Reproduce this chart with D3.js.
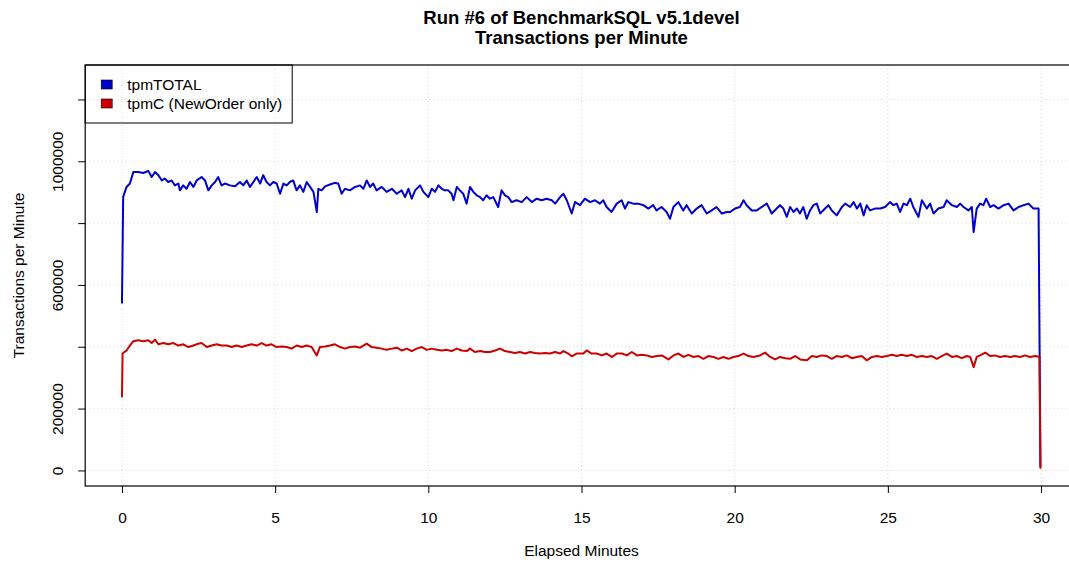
<!DOCTYPE html>
<html>
<head>
<meta charset="utf-8">
<title>Run #6 of BenchmarkSQL v5.1devel</title>
<script src="https://cdn.jsdelivr.net/npm/d3@7"></script>
<style>
    body { margin: 0; background: #fff; }
    svg { display: block; font-family: "Liberation Sans", Arial, Helvetica, sans-serif; }
</style>
</head>
<body>
<svg id="chart"></svg>
<script>
// ---------------- data ----------------
const TITLE_LINES = ["Run #6 of BenchmarkSQL v5.1devel", "Transactions per Minute"]
const X_LABEL = "Elapsed Minutes"
const Y_LABEL = "Transactions per Minute"
const SERIES_NAMES = ["tpmTOTAL", "tpmC (NewOrder only)"]

const X_TICKS = [0, 5, 10, 15, 20, 25, 30]
const Y_TICKS = [0, 200000, 400000, 600000, 800000, 1000000, 1200000]
const Y_TICK_LABELS = ["0", "200000", "", "600000", "", "1000000", ""]   // R skips overlapping labels

const totalMinutes = [0.00, 0.04, 0.15, 0.26, 0.37, 0.53, 0.70, 0.86, 0.97, 1.08, 1.19, 1.30, 1.40, 1.51, 1.62, 1.73, 1.84, 1.89, 2.00, 2.11, 2.22, 2.33, 2.44, 2.60, 2.71, 2.82, 2.93, 3.04, 3.14, 3.25, 3.36, 3.53, 3.69, 3.85, 3.96, 4.07, 4.18, 4.29, 4.40, 4.51, 4.61, 4.72, 4.83, 4.94, 5.05, 5.16, 5.27, 5.38, 5.48, 5.59, 5.70, 5.81, 5.92, 6.03, 6.14, 6.25, 6.36, 6.41, 6.52, 6.63, 6.79, 6.95, 7.06, 7.17, 7.28, 7.44, 7.61, 7.77, 7.88, 7.99, 8.10, 8.20, 8.31, 8.48, 8.64, 8.81, 8.97, 9.13, 9.24, 9.35, 9.46, 9.57, 9.73, 9.84, 10.00, 10.11, 10.22, 10.33, 10.44, 10.54, 10.65, 10.76, 10.82, 10.93, 11.03, 11.14, 11.25, 11.36, 11.47, 11.58, 11.69, 11.79, 11.90, 12.01, 12.12, 12.28, 12.39, 12.50, 12.61, 12.72, 12.88, 13.05, 13.21, 13.38, 13.54, 13.70, 13.86, 14.03, 14.14, 14.30, 14.41, 14.52, 14.68, 14.79, 14.95, 15.11, 15.28, 15.44, 15.60, 15.71, 15.82, 15.98, 16.15, 16.31, 16.42, 16.53, 16.69, 16.85, 17.02, 17.18, 17.34, 17.45, 17.61, 17.78, 17.89, 18.00, 18.16, 18.32, 18.43, 18.60, 18.76, 18.92, 19.09, 19.25, 19.41, 19.58, 19.74, 19.85, 20.01, 20.17, 20.29, 20.39, 20.56, 20.72, 20.88, 21.05, 21.21, 21.37, 21.48, 21.59, 21.70, 21.81, 21.92, 22.03, 22.13, 22.24, 22.35, 22.46, 22.57, 22.68, 22.79, 22.95, 23.06, 23.17, 23.33, 23.50, 23.61, 23.77, 23.88, 23.99, 24.10, 24.21, 24.31, 24.42, 24.58, 24.75, 24.91, 25.07, 25.18, 25.29, 25.40, 25.51, 25.62, 25.73, 25.83, 26.00, 26.11, 26.27, 26.38, 26.49, 26.65, 26.82, 26.92, 27.09, 27.25, 27.36, 27.47, 27.63, 27.74, 27.80, 27.90, 28.01, 28.12, 28.21, 28.34, 28.45, 28.61, 28.78, 28.94, 29.10, 29.27, 29.43, 29.59, 29.75, 29.92, 29.98]
const totalTpm = [540000, 885000, 917000, 928000, 965000, 965000, 962000, 969000, 949000, 965000, 955000, 938000, 944000, 933000, 938000, 922000, 928000, 906000, 922000, 911000, 933000, 917000, 938000, 949000, 938000, 906000, 922000, 933000, 949000, 922000, 928000, 922000, 919000, 933000, 922000, 938000, 917000, 933000, 949000, 928000, 955000, 933000, 922000, 933000, 928000, 895000, 928000, 922000, 933000, 938000, 906000, 922000, 901000, 933000, 917000, 901000, 836000, 911000, 906000, 919000, 925000, 930000, 928000, 895000, 911000, 906000, 917000, 922000, 911000, 938000, 917000, 928000, 906000, 917000, 901000, 911000, 895000, 906000, 884000, 911000, 879000, 906000, 922000, 901000, 884000, 911000, 901000, 922000, 911000, 906000, 906000, 895000, 874000, 917000, 906000, 895000, 863000, 917000, 901000, 890000, 884000, 874000, 890000, 879000, 884000, 852000, 906000, 890000, 884000, 868000, 874000, 868000, 884000, 868000, 879000, 874000, 879000, 874000, 863000, 884000, 895000, 874000, 831000, 868000, 858000, 879000, 868000, 874000, 863000, 874000, 852000, 836000, 863000, 874000, 847000, 868000, 863000, 863000, 858000, 847000, 858000, 841000, 852000, 836000, 814000, 852000, 868000, 841000, 858000, 831000, 847000, 858000, 831000, 841000, 852000, 831000, 836000, 836000, 847000, 852000, 874000, 858000, 841000, 841000, 852000, 863000, 831000, 847000, 858000, 847000, 820000, 852000, 836000, 847000, 831000, 852000, 814000, 841000, 858000, 863000, 831000, 847000, 858000, 841000, 825000, 852000, 863000, 852000, 868000, 847000, 863000, 825000, 858000, 841000, 847000, 847000, 852000, 868000, 858000, 863000, 836000, 863000, 858000, 879000, 852000, 820000, 874000, 847000, 863000, 831000, 847000, 852000, 874000, 858000, 852000, 863000, 852000, 841000, 852000, 771000, 847000, 863000, 858000, 879000, 852000, 858000, 847000, 858000, 863000, 841000, 852000, 858000, 863000, 847000, 847000, 12000]

const newOrderMinutes = [0.00, 0.02, 0.15, 0.26, 0.37, 0.53, 0.70, 0.86, 0.97, 1.08, 1.19, 1.35, 1.51, 1.68, 1.84, 2.00, 2.17, 2.33, 2.49, 2.60, 2.77, 2.93, 3.09, 3.25, 3.42, 3.58, 3.74, 3.91, 4.07, 4.23, 4.40, 4.56, 4.72, 4.88, 5.05, 5.21, 5.38, 5.54, 5.70, 5.87, 6.03, 6.19, 6.36, 6.46, 6.63, 6.79, 6.95, 7.12, 7.28, 7.44, 7.61, 7.77, 7.99, 8.15, 8.31, 8.48, 8.64, 8.81, 8.97, 9.13, 9.30, 9.46, 9.62, 9.79, 9.95, 10.11, 10.28, 10.44, 10.60, 10.76, 10.93, 11.09, 11.25, 11.36, 11.52, 11.69, 11.85, 12.01, 12.18, 12.34, 12.50, 12.66, 12.83, 12.99, 13.16, 13.32, 13.48, 13.65, 13.81, 13.97, 14.14, 14.30, 14.41, 14.57, 14.68, 14.84, 15.06, 15.17, 15.33, 15.50, 15.66, 15.82, 15.99, 16.15, 16.32, 16.48, 16.64, 16.81, 16.97, 17.13, 17.29, 17.46, 17.62, 17.84, 18.00, 18.16, 18.33, 18.49, 18.65, 18.82, 18.98, 19.14, 19.31, 19.47, 19.63, 19.80, 19.96, 20.12, 20.29, 20.45, 20.61, 20.83, 20.99, 21.16, 21.32, 21.48, 21.65, 21.81, 21.97, 22.14, 22.36, 22.52, 22.68, 22.84, 23.01, 23.17, 23.33, 23.50, 23.66, 23.82, 23.99, 24.15, 24.31, 24.48, 24.64, 24.80, 24.97, 25.13, 25.29, 25.45, 25.62, 25.78, 25.94, 26.11, 26.27, 26.43, 26.60, 26.76, 26.92, 27.09, 27.25, 27.41, 27.58, 27.69, 27.80, 27.90, 28.01, 28.18, 28.34, 28.50, 28.66, 28.83, 28.99, 29.15, 29.32, 29.48, 29.64, 29.81, 29.95, 29.98]
const newOrderTpm = [237000, 378000, 388000, 404000, 418000, 421000, 418000, 421000, 412000, 423000, 408000, 412000, 408000, 412000, 404000, 408000, 399000, 404000, 410000, 412000, 399000, 404000, 408000, 404000, 404000, 399000, 404000, 399000, 404000, 408000, 404000, 412000, 404000, 408000, 399000, 401000, 399000, 394000, 404000, 399000, 404000, 399000, 372000, 399000, 401000, 404000, 408000, 399000, 394000, 399000, 401000, 397000, 410000, 399000, 397000, 394000, 390000, 394000, 397000, 388000, 394000, 386000, 394000, 399000, 390000, 394000, 390000, 388000, 390000, 386000, 394000, 388000, 386000, 394000, 383000, 386000, 383000, 383000, 388000, 394000, 386000, 383000, 380000, 383000, 378000, 383000, 380000, 378000, 380000, 378000, 383000, 378000, 386000, 378000, 369000, 378000, 378000, 388000, 378000, 378000, 372000, 378000, 367000, 378000, 378000, 372000, 383000, 372000, 374000, 372000, 367000, 370000, 372000, 359000, 372000, 378000, 367000, 374000, 367000, 370000, 361000, 370000, 367000, 361000, 367000, 361000, 367000, 370000, 378000, 370000, 367000, 372000, 381000, 367000, 359000, 367000, 363000, 361000, 370000, 359000, 356000, 370000, 367000, 372000, 370000, 361000, 370000, 367000, 372000, 363000, 367000, 370000, 356000, 367000, 370000, 367000, 370000, 374000, 370000, 374000, 370000, 374000, 367000, 370000, 367000, 370000, 361000, 370000, 378000, 367000, 370000, 363000, 370000, 367000, 334000, 367000, 372000, 381000, 370000, 372000, 367000, 370000, 367000, 370000, 367000, 372000, 367000, 370000, 367000, 5000]

// ---------------- layout ----------------
const WIDTH = 1069
const HEIGHT = 565
const BOX = { left: 85.2, right: 1077.8, top: 65, bottom: 486 }
const TOTAL_COLOR = "#0000CD"   // blue3
const NEWORDER_COLOR = "#CD0000" // red3
const FONT_SIZE = 15.5
const TITLE_SIZE = 18.5

const svg = d3.select("#chart").attr("width", WIDTH).attr("height", HEIGHT)

// R style: 4% padding around the data range
const yTop = 1261000
const xScale = d3.scaleLinear().domain([-1.2, 31.2]).range([BOX.left, BOX.right])
const yScale = d3.scaleLinear().domain([-0.04 * yTop, 1.04 * yTop]).range([BOX.bottom, BOX.top])

// ---------------- grid ----------------
const grid = svg.append("g").attr("stroke", "#D3D3D3").attr("stroke-dasharray", "1,3").attr("stroke-width", 1)
grid.selectAll(".gx").data(X_TICKS).enter().append("line")
    .attr("x1", d => xScale(d)).attr("x2", d => xScale(d))
    .attr("y1", BOX.top).attr("y2", BOX.bottom)
grid.selectAll(".gy").data(Y_TICKS).enter().append("line")
    .attr("x1", BOX.left).attr("x2", BOX.right)
    .attr("y1", d => yScale(d)).attr("y2", d => yScale(d))

// ---------------- lines ----------------
const line = d3.line().x(d => xScale(d[0])).y(d => yScale(d[1]))

svg.append("path")
    .datum(d3.zip(totalMinutes, totalTpm))
    .attr("fill", "none").attr("stroke", TOTAL_COLOR).attr("stroke-width", 2)
    .attr("stroke-linejoin", "round")
    .attr("d", line)

svg.append("path")
    .datum(d3.zip(newOrderMinutes, newOrderTpm))
    .attr("fill", "none").attr("stroke", NEWORDER_COLOR).attr("stroke-width", 2)
    .attr("stroke-linejoin", "round")
    .attr("d", line)

// ---------------- box ----------------
svg.append("rect")
    .attr("x", BOX.left).attr("y", BOX.top)
    .attr("width", BOX.right - BOX.left).attr("height", BOX.bottom - BOX.top)
    .attr("fill", "none").attr("stroke", "#000").attr("stroke-width", 1.2)

// ---------------- axes ----------------
const xAxis = svg.append("g")
    .attr("transform", `translate(0,${BOX.bottom})`)
    .call(d3.axisBottom(xScale).tickValues(X_TICKS).tickSize(7).tickPadding(19).tickFormat(d3.format("d")))
xAxis.select(".domain").remove()
xAxis.selectAll("text").attr("font-size", FONT_SIZE).attr("fill", "#000").attr("font-family", null)
xAxis.selectAll("line").attr("stroke", "#000")

const yAxis = svg.append("g")
    .attr("transform", `translate(${BOX.left},0)`)
    .call(d3.axisLeft(yScale).tickValues(Y_TICKS).tickSize(7).tickFormat((d, i) => Y_TICK_LABELS[i]))
yAxis.select(".domain").remove()
yAxis.selectAll("line").attr("stroke", "#000")
yAxis.selectAll("text")
    .attr("x", null).attr("dy", null)
    .attr("text-anchor", "middle")
    .attr("transform", "translate(-22,0) rotate(-90)")
    .attr("font-size", FONT_SIZE).attr("fill", "#000").attr("font-family", null)

// ---------------- titles ----------------
svg.append("text")
    .attr("x", (BOX.left + BOX.right) / 2).attr("y", 24)
    .attr("text-anchor", "middle").attr("font-weight", "bold").attr("font-size", TITLE_SIZE)
    .text(TITLE_LINES[0])
svg.append("text")
    .attr("x", (BOX.left + BOX.right) / 2).attr("y", 44)
    .attr("text-anchor", "middle").attr("font-weight", "bold").attr("font-size", TITLE_SIZE)
    .text(TITLE_LINES[1])

svg.append("text")
    .attr("x", (BOX.left + BOX.right) / 2).attr("y", 556)
    .attr("text-anchor", "middle").attr("font-size", FONT_SIZE)
    .text(X_LABEL)

svg.append("text")
    .attr("transform", `translate(24,${(BOX.top + BOX.bottom) / 2}) rotate(-90)`)
    .attr("text-anchor", "middle").attr("font-size", FONT_SIZE)
    .text(Y_LABEL)

// ---------------- legend ----------------
const legend = svg.append("g").attr("transform", `translate(${BOX.left},${BOX.top})`)
legend.append("rect")
    .attr("x", 0).attr("y", 0).attr("width", 207).attr("height", 58)
    .attr("fill", "none").attr("stroke", "#000").attr("stroke-width", 1)

const legendItems = legend.selectAll(".item")
    .data([[SERIES_NAMES[0], TOTAL_COLOR], [SERIES_NAMES[1], NEWORDER_COLOR]])
    .enter().append("g")
    .attr("transform", (d, i) => `translate(0,${19 + i * 19})`)
legendItems.append("rect")
    .attr("x", 16).attr("y", -4).attr("width", 11).attr("height", 9)
    .attr("fill", d => d[1]).attr("stroke", "#000").attr("stroke-width", 0.6)
legendItems.append("text")
    .attr("x", 42).attr("y", 5.5)
    .attr("font-size", FONT_SIZE)
    .text(d => d[0])
</script>
</body>
</html>
